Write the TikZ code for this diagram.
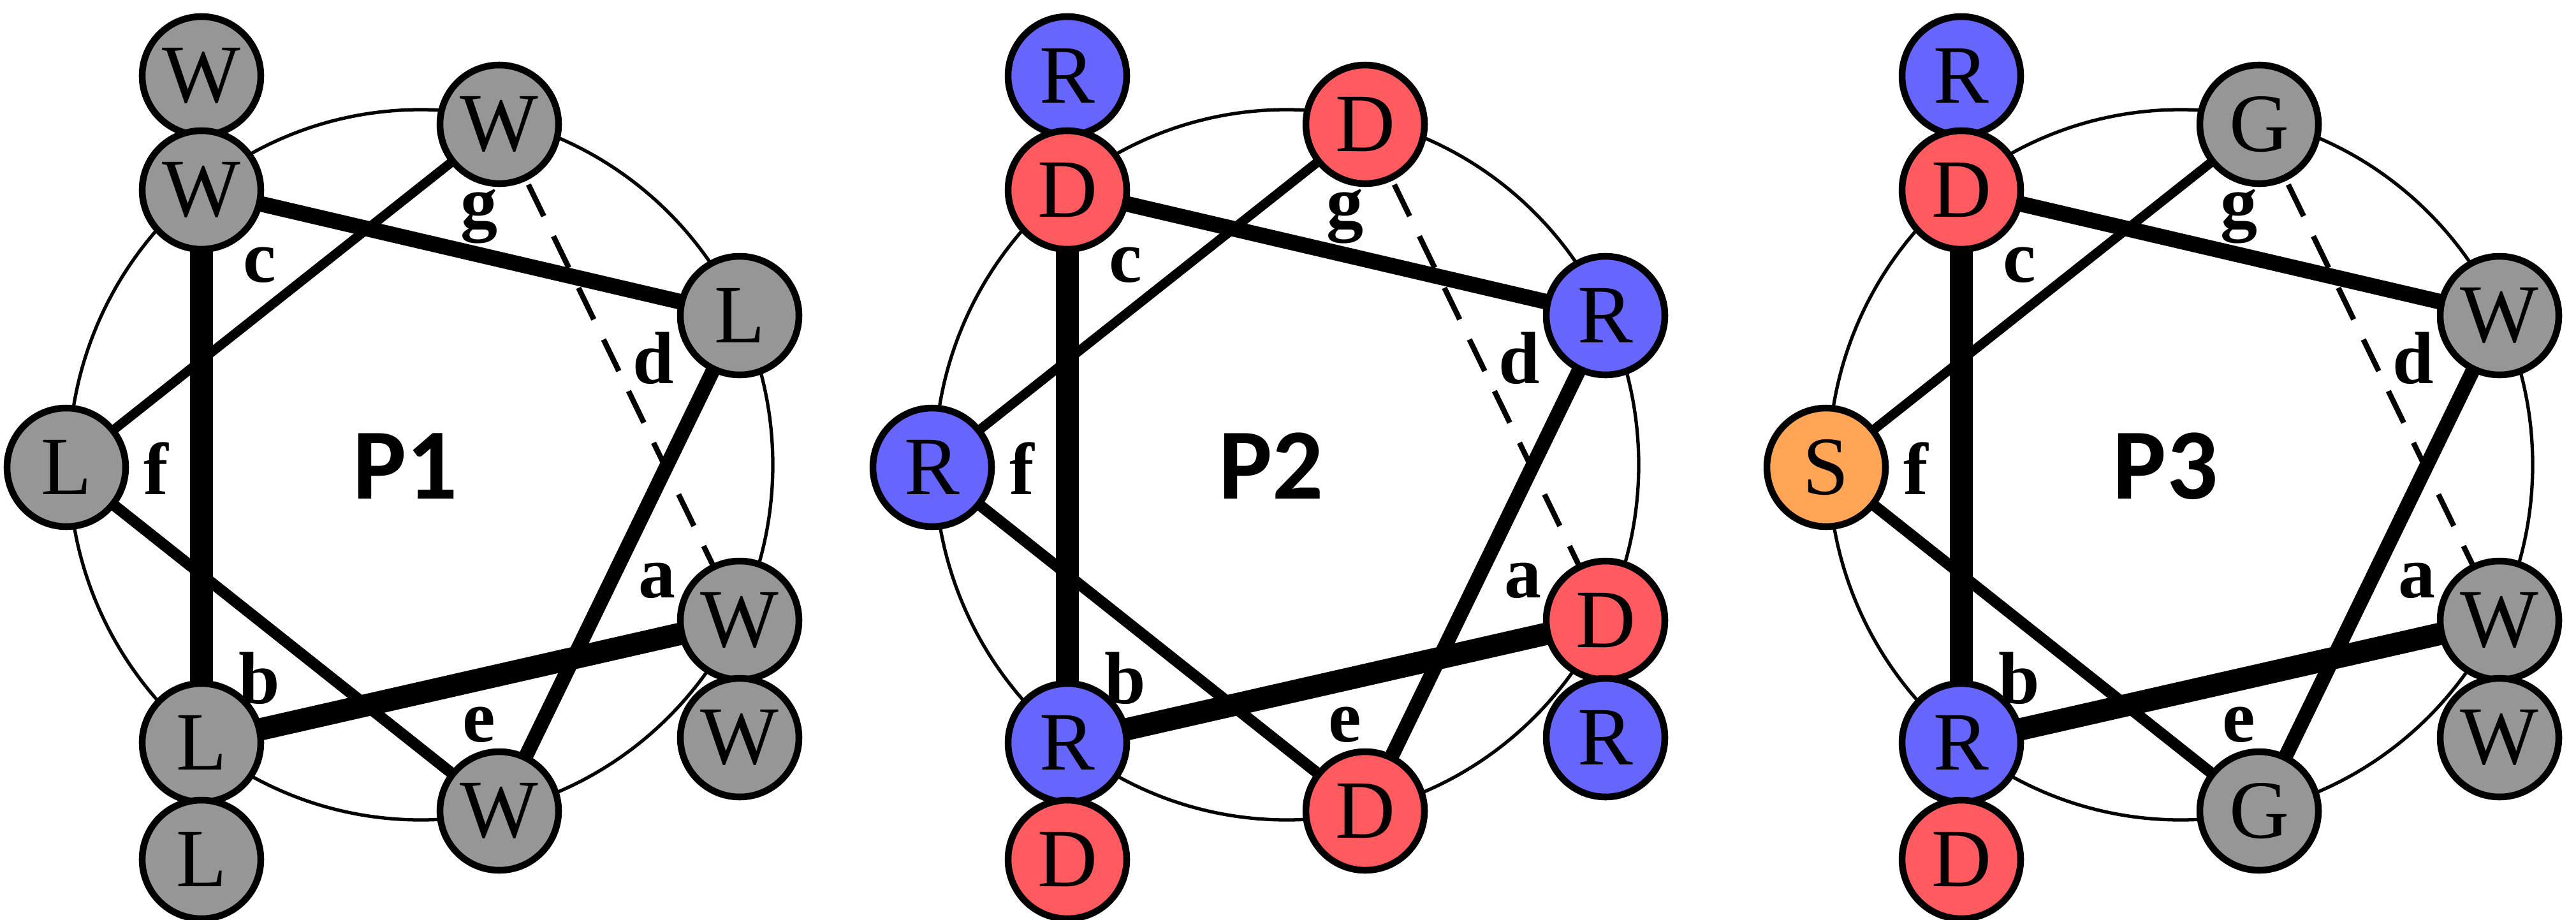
\documentclass[tikz,border=0pt]{standalone}
\usepackage{fontspec}
\setmainfont{Liberation Serif}
\newfontfamily\titlefont{Carlito}
\definecolor{cg}{RGB}{150,150,150}
\definecolor{cr}{RGB}{255,90,95}
\definecolor{cb}{RGB}{102,102,255}
\definecolor{co}{RGB}{255,165,85}
\tikzset{
 res/.style={circle,draw=black,line width=3pt,minimum size=1.86cm,inner sep=0pt,font=\fontsize{37}{37}\selectfont},
 lab/.style={font=\fontsize{33}{33}\selectfont\bfseries},
 ttl/.style={font=\fontsize{45}{45}\selectfont\titlefont\bfseries},
}
\newcommand\helixpanel[4]{%
 \begin{scope}[xshift=#1cm]
  \draw[line width=1.5pt] (6.60,-7.29) ellipse [x radius=5.52cm, y radius=5.57cm];
  \foreach \c/\t [count=\i] in {#4}{%
   \pgfmathsetmacro\px{{3.16,3.16,7.83,11.60,1.04,11.60,11.60,3.16,3.16,7.83}[\i-1]}%
   \pgfmathsetmacro\py{{1.19,2.98,1.95,4.95,7.33,9.73,11.57,11.65,13.48,12.72}[\i-1]}%
   \coordinate (#2p\i) at (\px,-\py);
  }
  \draw[line width=10.5pt] (#2p2) -- (#2p8);
  \draw[line width=7pt] (#2p2) -- (#2p4);
  \draw[line width=6.5pt] (#2p4) -- (#2p10);
  \draw[line width=10pt] (#2p6) -- (#2p8);
  \draw[line width=4.2pt] (#2p5) -- (#2p3);
  \draw[line width=5pt] (#2p5) -- (#2p10);
  \draw[line width=2.4pt,dash pattern=on 0.55cm off 0.35cm,shorten <=1.05cm,shorten >=0.95cm] (#2p3) -- (#2p6);
  \foreach \c/\t [count=\i] in {#4}{%
   \node[res,fill=\c] (#2\i) at (#2p\i) {\t};
  }
  \node[lab] (#2lg) at (7.51,-3.40) {g};
  \node[lab] (#2lc) at (4.07,-4.16) {c};
  \node[lab] (#2ld) at (10.25,-5.62) {d};
  \node[lab] (#2lf) at (2.45,-7.35) {f};
  \node[lab] (#2la) at (10.30,-9.11) {a};
  \node[lab] (#2lb) at (4.07,-10.64) {b};
  \node[lab] (#2le) at (7.51,-11.37) {e};
  \node[ttl] (#2t) at (6.36,-7.31) {#3};
 \end{scope}}
\begin{document}
\begin{tikzpicture}
\useasboundingbox (0,0) rectangle (40.40,-14.43);
\helixpanel{0}{A}{P1}{cg/W,cg/W,cg/W,cg/L,cg/L,cg/W,cg/W,cg/L,cg/L,cg/W}
\helixpanel{13.58}{B}{P2}{cb/R,cr/D,cr/D,cb/R,cb/R,cr/D,cb/R,cb/R,cr/D,cr/D}
\helixpanel{27.60}{C}{P3}{cb/R,cr/D,cg/G,cg/W,co/S,cg/W,cg/W,cb/R,cr/D,cg/G}
\end{tikzpicture}
\end{document}
